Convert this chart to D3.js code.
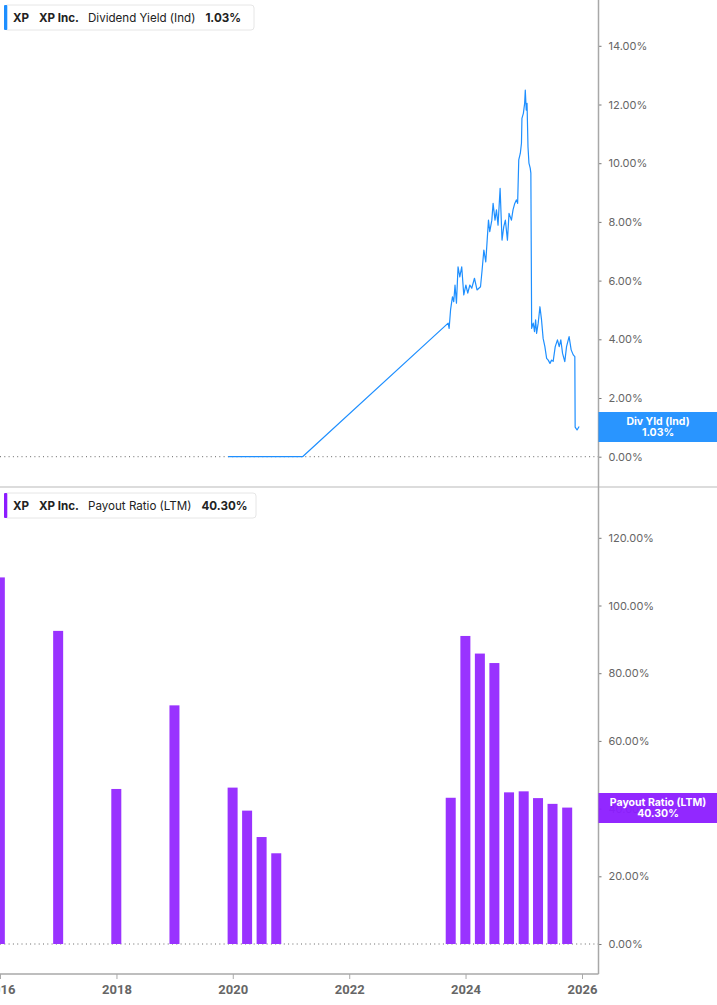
<!DOCTYPE html>
<html><head><meta charset="utf-8">
<script src="https://cdn.jsdelivr.net/npm/d3@7"></script>
<style>
body{margin:0;background:#fff}
svg{display:block}
text{font-family:Inter,"Noto Sans",sans-serif}
</style>
</head><body>
<svg id="c" width="717" height="1005"></svg>
<script>
// ---- data ----
const yieldDates = ["2019-12-03","2021-03-14","2023-09-14","2023-09-20","2023-09-29","2023-10-05","2023-10-11","2023-10-19","2023-10-27","2023-11-05","2023-11-15","2023-11-26","2023-12-08","2023-12-21","2024-01-03","2024-01-15","2024-01-28","2024-02-09","2024-02-26","2024-03-13","2024-04-04","2024-04-14","2024-04-25","2024-05-07","2024-05-24","2024-06-01","2024-06-14","2024-06-22","2024-07-04","2024-07-13","2024-07-23","2024-08-05","2024-08-17","2024-08-28","2024-09-07","2024-09-20","2024-09-30","2024-10-15","2024-10-25","2024-11-05","2024-11-15","2024-11-23","2024-11-30","2024-12-10","2024-12-17","2024-12-20","2024-12-29","2025-01-06","2025-01-10","2025-01-16","2025-01-21","2025-01-27","2025-02-02","2025-02-10","2025-02-14","2025-02-19","2025-03-01","2025-03-09","2025-03-16","2025-03-22","2025-04-01","2025-04-12","2025-04-22","2025-05-02","2025-05-13","2025-05-24","2025-06-03","2025-06-14","2025-06-24","2025-07-04","2025-07-17","2025-07-31","2025-08-11","2025-08-21","2025-09-01","2025-09-15","2025-09-26","2025-10-12","2025-10-25","2025-11-07","2025-11-17","2025-11-19","2025-12-01","2025-12-14"];
const yieldValues = [0,0,4.55,4.37,5.00,5.23,5.45,5.28,5.85,5.23,6.47,6.13,6.47,5.51,5.85,5.57,5.85,5.74,6.08,5.68,5.79,6.36,7.04,6.64,8.06,7.67,8.06,8.63,8.06,8.41,7.89,9.14,7.38,7.84,8.06,7.38,8.29,8.06,8.41,8.63,8.75,8.63,10.11,10.34,10.68,11.53,11.70,12.04,12.49,11.81,12.04,10.56,10.00,9.83,9.66,4.37,4.55,4.26,4.66,4.20,4.55,5.11,4.66,4.03,3.75,3.35,3.29,3.18,3.29,3.25,3.75,3.98,3.75,3.98,3.52,3.24,3.75,4.09,3.64,3.47,3.41,1.01,0.91,1.03];
const payoutDates = ["2015-12-31","2016-12-31","2017-12-31","2018-12-31","2019-12-31","2020-03-31","2020-06-30","2020-09-30","2023-09-30","2023-12-31","2024-03-31","2024-06-30","2024-09-30","2024-12-31","2025-03-31","2025-06-30","2025-09-30"];
const payoutValues = [108.3,92.5,45.8,70.5,46.2,39.4,31.6,26.8,43.2,91.0,85.8,83.0,44.8,45.1,43.1,41.4,40.3];
const yearTicks = ["2016","2018","2020","2022","2024","2026"];
const yieldTicks = [0,2,4,6,8,10,12,14];
const payoutTicks = [0,20,40,60,80,100,120];
const yieldLegend = ["XP","XP Inc.","Dividend Yield (Ind)","1.03%"];
const payoutLegend = ["XP","XP Inc.","Payout Ratio (LTM)","40.30%"];
const yieldBadge = ["Div Yld (Ind)","1.03%"];
const payoutBadge = ["Payout Ratio (LTM)","40.30%"];

// ---- layout ----
const W = 717, axisX = 598.5, axisY = 974;
const blue = "#1e8fff", purple = "#9933ff", purpleDark = "#8c1cff";
const svg = d3.select("#c");
const parse = d3.utcParse("%Y-%m-%d");

const x = d3.scaleUtc().domain([parse("2016-01-01"), parse("2026-01-01")]).range([0, 582]);
const yTop = d3.scaleLinear().domain([0, 14]).range([456.7, 45.8]);
const yBot = d3.scaleLinear().domain([0, 120]).range([944, 537.8]);

// divider
svg.append("line").attr("x1",0).attr("x2",W).attr("y1",487).attr("y2",487)
  .attr("stroke","#dcdcdc").attr("stroke-width",2);

// zero dotted lines
[[yTop,0],[yBot,0]].forEach(([s,v])=>{
  svg.append("line").attr("x1",0).attr("x2",axisX).attr("y1",s(v)).attr("y2",s(v))
    .attr("stroke","#666").attr("stroke-width",1).attr("stroke-dasharray","1,3.3");
});

// bars
svg.append("g").selectAll("rect").data(payoutDates.map((d,i)=>({d:parse(d),v:payoutValues[i]})))
  .join("rect")
  .attr("x", d=>x(d.d)-5).attr("width",10)
  .attr("y", d=>yBot(d.v)).attr("height", d=>yBot(0)-yBot(d.v))
  .attr("fill", purple);

// line
const lineData = yieldDates.map((d,i)=>({d:parse(d),v:yieldValues[i]}));
svg.append("path").datum(lineData)
  .attr("fill","none").attr("stroke",blue).attr("stroke-width",1.2).attr("stroke-linejoin","round")
  .attr("d", d3.line().x(d=>x(d.d)).y(d=>yTop(d.v)));

// right axes
function rightAxis(scale, ticks){
  const g = svg.append("g").attr("transform",`translate(${axisX},0)`)
    .call(d3.axisRight(scale).tickValues(ticks).tickFormat(d=>d.toFixed(2)+"%").tickSize(3).tickPadding(7));
  g.select(".domain").remove();
  g.selectAll("line").attr("stroke","#777");
  g.selectAll("text").attr("fill","#666").style("font-size","11px").style("font-family","Inter, sans-serif");
}
rightAxis(yTop, yieldTicks);
rightAxis(yBot, payoutTicks);

// bottom axis
const gx = svg.append("g").attr("transform",`translate(0,${axisY})`)
  .call(d3.axisBottom(x).tickValues(yearTicks.map(y=>parse(y+"-01-01"))).tickFormat(d3.utcFormat("%Y")).tickSize(5).tickPadding(6));
gx.select(".domain").remove();
gx.selectAll("line").attr("stroke","#aaa");
gx.selectAll("text").attr("fill","#666").style("font-size","13px").style("font-weight","700")
  .style("font-family","Roboto, 'Liberation Sans', sans-serif");

// axis frame lines
svg.append("line").attr("x1",axisX).attr("x2",axisX).attr("y1",0).attr("y2",axisY)
  .attr("stroke","#a8a8a8").attr("stroke-width",1.5);
svg.append("line").attr("x1",0).attr("x2",axisX).attr("y1",axisY).attr("y2",axisY)
  .attr("stroke","#a8a8a8").attr("stroke-width",1.5);

// badges
function badge(y0, color, lines){
  svg.append("rect").attr("x",axisX).attr("y",y0).attr("width",W-axisX).attr("height",30)
    .attr("fill",color).attr("fill-opacity",0.95);
  lines.forEach((t,i)=>{
    svg.append("text").attr("x",658).attr("y",y0+12.5+i*11.6).attr("text-anchor","middle")
      .attr("fill","#fff").style("font-size","10.5px").style("font-weight","700").text(t);
  });
}
badge(412, blue, yieldBadge);
badge(793, purpleDark, payoutBadge);

// legends
function legend(y0, color, parts, w){
  svg.append("rect").attr("x",4.5).attr("y",y0).attr("width",w).attr("height",25)
    .attr("rx",3).attr("fill","#fff").attr("stroke","#e6e6e6");
  svg.append("rect").attr("x",4).attr("y",y0).attr("width",3.3).attr("height",25).attr("rx",1).attr("fill",color);
  const xs = [13, 39, 88, null];
  const weights = [700,700,400,700];
  const t = svg.append("text").attr("y",y0+16.5).style("font-size","11.6px").attr("fill","#222");
  parts.forEach((p,i)=>{
    const sp = t.append("tspan").style("font-weight",weights[i]).text(p);
    if(xs[i]!==null) sp.attr("x",xs[i]); else sp.attr("dx",10);
  });
}
legend(5, blue, yieldLegend, 249.5);
legend(493, purpleDark, payoutLegend, 251.5);
</script>
</body></html>
